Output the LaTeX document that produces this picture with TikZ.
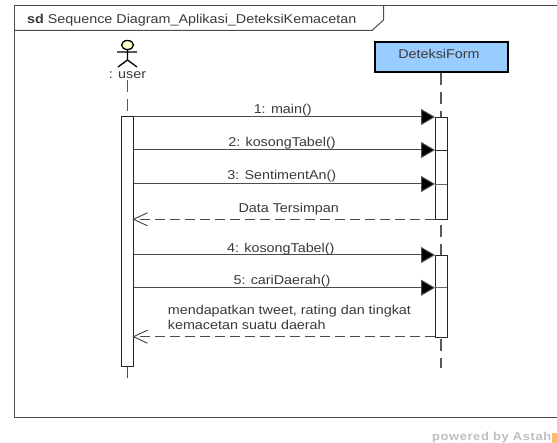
\documentclass[tikz,border=0pt]{standalone}
\usepackage{fontspec}
\setmainfont[FakeStretch=1.12]{Liberation Sans}
\usetikzlibrary{arrows.meta}
\definecolor{classblue}{HTML}{99CCFF}
\definecolor{actorfill}{HTML}{FFFFCC}
\definecolor{txt}{HTML}{3A3A3A}
\tikzset{
 framebox/.style={draw=black!70,line width=1pt},
 lifeline/.style={draw=black!65,line width=1.3pt,dash pattern=on 12pt off 7pt},
 activation/.style={draw=black!85,fill=white,line width=.9pt,minimum width=12pt,inner sep=0pt},
 call/.style={draw=black!70,line width=1pt,-{Triangle[length=14pt,width=16pt,fill=black]}},
 reply/.style={draw=black!70,line width=.9pt,dash pattern=on 10pt off 5pt},
 barb/.style={draw=black!75,line width=.9pt,line join=miter},
 msg/.style={font=\fontsize{12.8}{14.3}\selectfont,text=txt,inner sep=0pt,anchor=base},
}
\begin{document}
\begin{tikzpicture}[x=1pt,y=-1pt]
\useasboundingbox (0,0) rectangle (557,443);
\fill[white] (0,0) rectangle (557,443);
% frame
\draw[framebox] (557,5.5) -- (14,5.5) -- (14,418) -- (557,418);
\draw[framebox] (14,30.5) -- (372,30.5) -- (383.5,20) -- (383.5,5.5);
\node[msg,anchor=base west] (title) at (27,23.5) {\textbf{sd} Sequence Diagram\_Aplikasi\_DeteksiKemacetan};
% actor
\coordinate (ua) at (127.5,80);
\coordinate (ub) at (127.5,378);
\draw[line width=1.3pt,black] (127.5,49) -- (127.5,60) (117,52) -- (137,52) (118,67) -- (127.5,60) -- (137,67);
\draw[line width=1.3pt,black,fill=actorfill] (127.5,45) ellipse (6pt and 4.5pt);
\node[msg] (user) at (127.5,79) {: user};
% class
\node[draw=black,line width=2pt,fill=classblue,minimum width=133pt,minimum height=29.7pt,inner sep=0pt,anchor=north west] (form) at (374.3,41) {};
\node[msg] (formlabel) at (439,58.3) {DeteksiForm};
\coordinate (fb) at (441,368);
% lifelines
\draw[lifeline] (ua) -- (127.5,116);
\draw[draw=black!70,line width=1pt] (127.5,366) -- (ub);
\draw[lifeline] (form.south -| fb) -- (fb);
% activations
\node[activation,anchor=north,minimum height=249.7pt] (au) at (127.5,116.5) {};
\node[activation,anchor=north,minimum height=102pt] (af1) at (441,117.3) {};
\node[activation,anchor=north,minimum height=81.7pt] (af2) at (441,255) {};
% messages
\coordinate (s1) at (133.5,117);
\coordinate (t1) at (435,117);
\draw[call] (s1) -- (t1);
\node[msg] (m1) at (282.7,114) {1: main()};
\coordinate (s2) at (133.5,150);
\coordinate (t2) at (435,150);
\draw[call] (s2) -- (t2);
\draw[black!85,line width=.9pt] (t2) -- (447,150);
\node[msg] (m2) at (282,146.7) {2: kosongTabel()};
\coordinate (s3) at (133.5,184);
\coordinate (t3) at (435,184);
\draw[call] (s3) -- (t3);
\draw[black!60,line width=.9pt] (t3) -- (447,184);
\node[msg] (m3) at (281.7,180) {3: SentimentAn()};
\coordinate (s4) at (435,219.3);
\coordinate (t4) at (133.5,219.3);
\draw[reply] (s4) -- (t4);
\draw[barb] (t4) ++(14,-6.5) -- (t4) -- ++(14,6.5);
\node[msg] (m4) at (288.7,212.3) {Data Tersimpan};
\coordinate (s5) at (133.5,255);
\coordinate (t5) at (435,255);
\draw[call] (s5) -- (t5);
\node[msg] (m5) at (280.8,252.7) {4: kosongTabel()};
\coordinate (s6) at (133.5,287.7);
\coordinate (t6) at (435,287.7);
\draw[call] (s6) -- (t6);
\draw[black!60,line width=.9pt] (t6) -- (447,287.7);
\node[msg] (m6) at (282,284.3) {5: cariDaerah()};
\coordinate (s7) at (435,336.7);
\coordinate (t7) at (133.5,336.7);
\draw[reply] (s7) -- (t7);
\draw[barb] (t7) ++(14,-6.5) -- (t7) -- ++(14,6.5);
\node[msg,anchor=base west] (m7a) at (167.7,315) {mendapatkan tweet, rating dan tingkat};
\node[msg,anchor=base west] (m7b) at (167.7,329.3) {kemacetan suatu daerah};
% watermark
\node[inner sep=0pt,anchor=base east,text=black!25,font=\fontsize{11.5}{13}\selectfont\bfseries] (wm) at (551.5,441) {\addfontfeature{LetterSpace=5.5}powered by Astah};
\fill[orange!55] (552,432.7) rectangle (557,443);
\end{tikzpicture}
\end{document}
